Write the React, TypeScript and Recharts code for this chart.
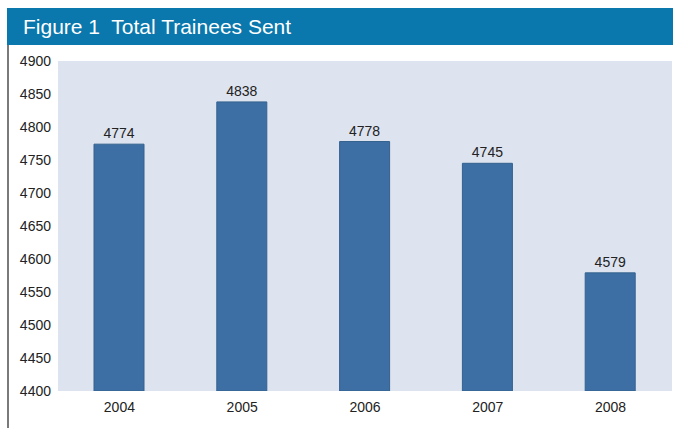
import { BarChart, Bar, XAxis, YAxis, CartesianGrid, LabelList } from "recharts";

const YEARS = ["2004", "2005", "2006", "2007", "2008"];
const TRAINEES = [4774, 4838, 4778, 4745, 4579];
const Y_TICKS = [4400, 4450, 4500, 4550, 4600, 4650, 4700, 4750, 4800, 4850, 4900];

const data = YEARS.map((year, i) => ({ year, trainees: TRAINEES[i] }));

const FONT = "'Liberation Sans', Arial, Helvetica, sans-serif";

export default function App() {
  return (
    <div
      style={{
        position: "absolute",
        left: 0,
        top: 0,
        width: 673,
        height: 428,
        background: "#fff",
        fontFamily: FONT,
        overflow: "hidden",
      }}
    >
      {/* title bar */}
      <div
        style={{
          position: "absolute",
          left: 7,
          top: 8,
          width: 666,
          height: 37,
          background: "#0a77ad",
          color: "#fff",
          fontSize: 21,
          lineHeight: "37px",
          paddingLeft: 16,
          boxSizing: "border-box",
          whiteSpace: "pre",
        }}
      >
        {"Figure 1  Total Trainees Sent"}
      </div>
      {/* left rule */}
      <div
        style={{
          position: "absolute",
          left: 7,
          top: 45,
          width: 2,
          height: 383,
          background: "#7a7a7a",
        }}
      />
      <div style={{ position: "absolute", left: 0, top: 0 }}>
        <BarChart
          width={673}
          height={428}
          data={data}
          margin={{ top: 61, right: 1, bottom: 7, left: 8 }}
          barSize={50}
        >
          <CartesianGrid fill="#dde3ef" stroke="none" horizontal={false} vertical={false} />
          <XAxis
            dataKey="year"
            axisLine={false}
            tickLine={false}
            tickSize={0}
            tickMargin={11}
            height={30}
            tick={{ fill: "#222", fontSize: 14, fontFamily: FONT }}
          />
          <YAxis
            domain={[4400, 4900]}
            ticks={Y_TICKS}
            interval={0}
            allowDataOverflow
            axisLine={false}
            tickLine={false}
            tickSize={0}
            tickMargin={7}
            width={50}
            tick={{ fill: "#222", fontSize: 14, fontFamily: FONT }}
          />
          <Bar dataKey="trainees" fill="#3d6fa5" stroke="#34618f" strokeWidth={1} isAnimationActive={false}>
            <LabelList
              dataKey="trainees"
              position="top"
              offset={6}
              fill="#222"
              fontSize={14}
              fontFamily={FONT}
            />
          </Bar>
        </BarChart>
      </div>
    </div>
  );
}
